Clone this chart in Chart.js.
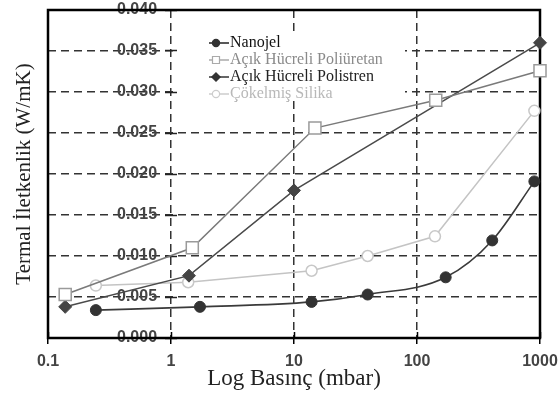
<!DOCTYPE html>
<html><head><meta charset="utf-8">
<script src="https://cdn.jsdelivr.net/npm/chart.js@4"></script>
<style>html,body{margin:0;padding:0;background:#fff;}canvas{display:block;}</style>
</head><body>
<canvas id="c" width="558" height="397"></canvas>
<script>
const seriesNames = ['Nanojel', 'Açık Hücreli Poliüretan', 'Açık Hücreli Polistren', 'Çökelmiş Silika'];
const nanojelX = [0.245, 1.72, 13.9, 39.7, 171, 409, 900];
const nanojelY = [0.0034, 0.0038, 0.0044, 0.0053, 0.0074, 0.0119, 0.0191];
const poliuretanX = [0.138, 1.49, 14.8, 142, 1000];
const poliuretanY = [0.0053, 0.0110, 0.0256, 0.0290, 0.0326];
const polistrenX = [0.138, 1.40, 10, 1000];
const polistrenY = [0.0038, 0.0076, 0.0180, 0.0360];
const silikaX = [0.245, 1.38, 13.9, 39.7, 140, 900];
const silikaY = [0.0064, 0.0068, 0.0082, 0.0100, 0.0124, 0.0277];
const xTickValues = [0.1, 1, 10, 100, 1000];
const xTickLabels = ['0.1', '1', '10', '100', '1000'];
const yTickValues = [0, 0.005, 0.010, 0.015, 0.020, 0.025, 0.030, 0.035, 0.040];
const yTickLabels = ['0.000', '0.005', '0.010', '0.015', '0.020', '0.025', '0.030', '0.035', '0.040'];
const xTitle = 'Log Basınç (mbar)';
const yTitle = 'Termal İletkenlik (W/mK)';

function pts(xs, ys) { return xs.map((x, i) => ({x: x, y: ys[i]})); }

function makeIcon(lineColor, kind, fill, stroke) {
  const c = document.createElement('canvas');
  c.width = 26; c.height = 14;
  const g = c.getContext('2d');
  g.strokeStyle = lineColor; g.lineWidth = 1.5;
  g.beginPath(); g.moveTo(0, 7); g.lineTo(26, 7); g.stroke();
  g.fillStyle = fill; g.strokeStyle = stroke; g.lineWidth = 1.2;
  g.beginPath();
  if (kind === 'circle') g.arc(13, 7, 3.6, 0, Math.PI * 2);
  else if (kind === 'rect') g.rect(9.5, 3.5, 7, 7);
  else { g.moveTo(13, 2.8); g.lineTo(17.2, 7); g.lineTo(13, 11.2); g.lineTo(8.8, 7); g.closePath(); }
  g.fill(); g.stroke();
  return c;
}
const legendIcons = [
  makeIcon('#222', 'circle', '#333', '#333'),
  makeIcon('#aaa', 'rect', '#fff', '#aaa'),
  makeIcon('#333', 'diamond', '#333', '#333'),
  makeIcon('#ccc', 'circle', '#fff', '#ccc')
];
const legendTextColors = ['#111', '#8a8a8a', '#222', '#b8b8b8'];

const framePlugin = {
  id: 'frame',
  afterLayout(chart) {
    const lg = chart.legend, a = chart.chartArea;
    lg.left = a.left + 161; lg.top = a.top + 24; lg.bottom = a.bottom;
  },
  beforeDatasetsDraw(chart) {
    const ctx = chart.ctx, a = chart.chartArea, lg = chart.legend;
    ctx.save();
    ctx.setLineDash([]);
    ctx.strokeStyle = '#000'; ctx.lineWidth = 2.5;
    ctx.strokeRect(a.left, a.top, a.right - a.left, a.bottom - a.top);
    ctx.fillStyle = '#fff';
    ctx.fillRect(lg.left - 31, lg.top - 2, 227, 68);
    ctx.restore();
    lg.draw();
  }
};

const tickFont = {family: 'Liberation Sans', size: 16, weight: 'bold'};

new Chart(document.getElementById('c'), {
  type: 'line',
  data: {
    datasets: [
      {label: seriesNames[0], data: pts(nanojelX, nanojelY), borderColor: '#3a3a3a', borderWidth: 1.6,
       pointStyle: 'circle', pointRadius: 5.5, pointBackgroundColor: '#333', pointBorderColor: '#333', pointBorderWidth: 1,
       cubicInterpolationMode: 'monotone', clip: false},
      {label: seriesNames[1], data: pts(poliuretanX, poliuretanY), borderColor: '#7a7a7a', borderWidth: 1.5,
       pointStyle: 'rect', pointRadius: 8.5, pointBackgroundColor: '#fff', pointBorderColor: '#9a9a9a', pointBorderWidth: 1.5, clip: false},
      {label: seriesNames[2], data: pts(polistrenX, polistrenY), borderColor: '#4a4a4a', borderWidth: 1.5,
       pointStyle: 'rectRot', pointRadius: 6.5, pointBackgroundColor: '#444', pointBorderColor: '#444', pointBorderWidth: 1, clip: false},
      {label: seriesNames[3], data: pts(silikaX, silikaY), borderColor: '#c4c4c4', borderWidth: 1.5,
       pointStyle: 'circle', pointRadius: 5.5, pointBackgroundColor: '#fff', pointBorderColor: '#c8c8c8', pointBorderWidth: 1.5, clip: false}
    ]
  },
  options: {
    responsive: false,
    animation: false,
    devicePixelRatio: 1,
    layout: {padding: {left: 0, top: 10, right: 18, bottom: 0}},
    scales: {
      x: {
        type: 'logarithmic', position: 'bottom', min: 0.1, max: 1000,
        afterBuildTicks: s => { s.ticks = xTickValues.map(v => ({value: v})); },
        afterFit: s => { s.height = 59; s.paddingLeft = 0; s.paddingRight = 0; },
        ticks: {autoSkip: false, maxRotation: 0, minRotation: 0, padding: 8, font: tickFont, color: '#444',
                callback: (v, i) => xTickLabels[i]},
        grid: {color: '#333', lineWidth: 1.5, tickLength: 6, tickColor: '#000', tickWidth: 1.5},
        border: {display: false, dash: [8, 5]},
        title: {display: true, text: xTitle, color: '#222', font: {family: 'Liberation Serif', size: 23}, padding: {top: 0, bottom: 4}}
      },
      x2: {
        type: 'logarithmic', axis: 'x', position: {y: 0.00073}, min: 0.1, max: 1000,
        afterBuildTicks: s => { s.ticks = xTickValues.map(v => ({value: v})); },
        ticks: {display: false},
        grid: {drawOnChartArea: false, tickLength: 6, tickColor: '#000', tickWidth: 1.5},
        border: {display: false}
      },
      y: {
        type: 'linear', position: 'left', min: 0, max: 0.04,
        afterBuildTicks: s => { s.ticks = yTickValues.map(v => ({value: v})); },
        afterFit: s => { s.width = 48; s.paddingTop = 0; s.paddingBottom = 0; },
        ticks: {mirror: true, crossAlign: 'near', padding: 69, font: tickFont, color: '#444',
                callback: (v, i) => yTickLabels[i]},
        grid: {color: '#333', lineWidth: 1.5, drawTicks: false},
        border: {display: false, dash: [8, 5]},
        title: {display: true, text: yTitle, color: '#222', font: {family: 'Liberation Serif', size: 21}, padding: {top: 12, bottom: 0}}
      },
      y2: {
        type: 'linear', axis: 'y', position: {x: 1.119}, min: 0, max: 0.04,
        afterBuildTicks: s => { s.ticks = yTickValues.map(v => ({value: v})); },
        ticks: {display: false},
        grid: {drawOnChartArea: false, tickLength: 12, tickColor: '#222', tickWidth: 1.5},
        border: {display: false}
      }
    },
    plugins: {
      tooltip: {enabled: false},
      legend: {
        position: 'chartArea', align: 'start',
        labels: {
          usePointStyle: true, pointStyleWidth: 12, padding: 1,
          font: {family: 'Liberation Serif', size: 16},
          generateLabels: chart => chart.data.datasets.map((ds, i) => ({
            text: ds.label, fillStyle: '#fff', strokeStyle: '#fff', lineWidth: 0,
            pointStyle: legendIcons[i], fontColor: legendTextColors[i], hidden: false, datasetIndex: i
          }))
        }
      }
    }
  },
  plugins: [framePlugin]
});
</script>
</body></html>
